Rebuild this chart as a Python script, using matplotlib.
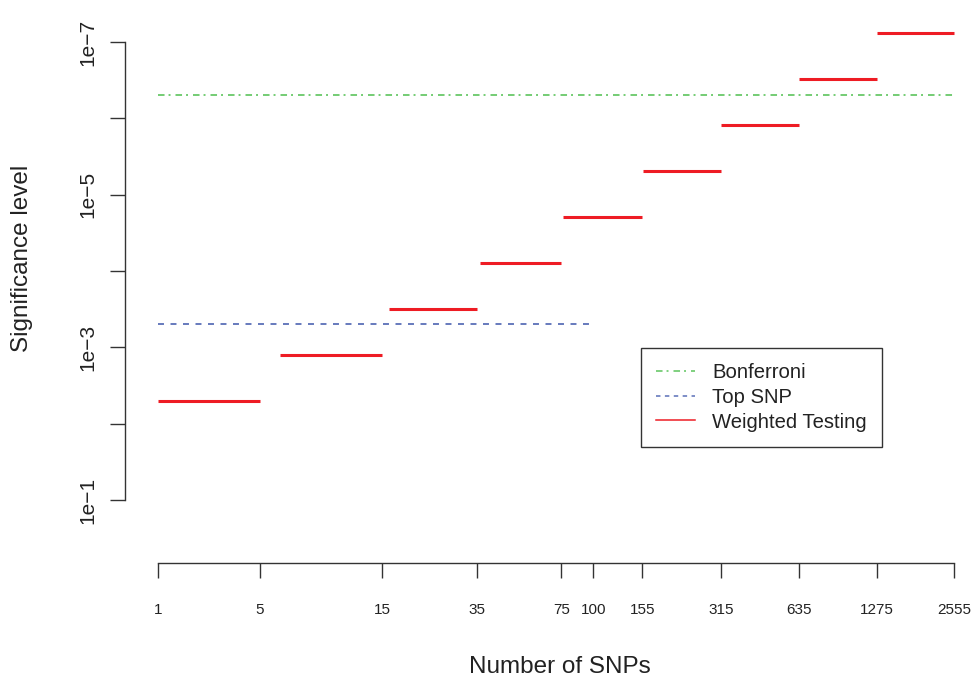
import matplotlib
matplotlib.use("Agg")
import matplotlib.pyplot as plt
from matplotlib.lines import Line2D
import numpy as np

plt.rcParams["font.family"] = ["Liberation Sans", "DejaVu Sans"]
plt.rcParams["lines.scale_dashes"] = False

# Groupes de SNPs (bornes) et niveau de signification pondéré
debut_groupe = [2, 6, 16, 36, 76, 156, 316, 636, 1276]
fin_groupe   = [5, 15, 35, 75, 155, 315, 635, 1275, 2555]
alpha_pond   = [5.0e-3, 1.25e-3, 3.1e-4, 7.8e-5, 1.95e-5, 4.9e-6, 1.22e-6, 3.05e-7, 7.6e-8]

# Seuils de référence
bonf_x   = [2, 2555]
bonf_y   = 5e-7
topsnp_x = [2, 100]
topsnp_y = 5e-4

ticks_x  = [2, 5, 15, 35, 75, 100, 155, 315, 635, 1275, 2555]
labels_x = ["1", "5", "15", "35", "75", "100", "155", "315", "635", "1275", "2555"]
ticks_y  = [1e-1, 1e-2, 1e-3, 1e-4, 1e-5, 1e-6, 1e-7]
labels_y = ["1e\u22121", "", "1e\u22123", "", "1e\u22125", "", "1e\u22127"]

VERT  = "#5cc45c"
BLEU  = "#5a6fb8"
ROUGE = "#ee1c24"
GRIS  = "#333333"
TIRET_VERT = (4.7, 2.9, 1.4, 3.6)
TIRET_BLEU = (4.3, 4.7)

W, H = 974, 678
fig = plt.figure(figsize=(W / 100, H / 100), dpi=100)
ax = fig.add_axes([125 / W, 1 - 563 / H, (W - 125) / W, (563 - 20) / H])

ax.set_xscale("log")
ax.set_yscale("log")

# échelle : ~256 px par décade en x, ~76 px par décade en y
ax.set_xlim(10 ** (np.log10(2) - 33 / 256.3), 10 ** (np.log10(2555) + 20 / 256.3))
ax.set_ylim(10 ** (-1 + 63 / 76.33), 10 ** (-7 - 22 / 76.33))

ax.plot(bonf_x, [bonf_y, bonf_y], color=VERT, lw=1.2, dashes=TIRET_VERT)
ax.plot(topsnp_x, [topsnp_y, topsnp_y], color=BLEU, lw=1.3, dashes=TIRET_BLEU)
for d, f, a in zip(debut_groupe, fin_groupe, alpha_pond):
    ax.plot([d, f], [a, a], color=ROUGE, lw=2.2, solid_capstyle="butt")

for cote in ["top", "right"]:
    ax.spines[cote].set_visible(False)
ax.spines["left"].set_bounds(1e-1, 1e-7)
ax.spines["bottom"].set_bounds(2, 2555)
for cote in ["left", "bottom"]:
    ax.spines[cote].set_color(GRIS)
    ax.spines[cote].set_linewidth(1.0)

ax.set_xticks(ticks_x)
ax.set_xticklabels(labels_x, fontsize=11, color="#222222")
ax.xaxis.set_minor_locator(matplotlib.ticker.NullLocator())
ax.set_yticks(ticks_y)
ax.set_yticklabels(labels_y, fontsize=15, color="#222222", rotation=90, va="center")
ax.yaxis.set_minor_locator(matplotlib.ticker.NullLocator())
ax.tick_params(axis="both", length=11, width=1.0, color=GRIS)
ax.tick_params(axis="x", pad=18)
ax.tick_params(axis="y", pad=9)

fig.text(560 / W, 1 - 667 / H, "Number of SNPs", fontsize=17.5,
         ha="center", va="center", color="#222222")
fig.text(22 / W, 1 - 258 / H, "Significance level", fontsize=17.5,
         ha="center", va="center", rotation=90, color="#222222")

# légende : traits fins comme dans R
poignees = [
    Line2D([], [], color=VERT, lw=1.1, dashes=TIRET_VERT),
    Line2D([], [], color=BLEU, lw=1.1, dashes=(3.2, 3.2)),
    Line2D([], [], color=ROUGE, lw=1.1),
]
leg = ax.legend(poignees, ["Bonferroni", "Top SNP", "Weighted Testing"],
                loc="upper left", bbox_to_anchor=(641 / W, 1 - 348 / H),
                bbox_transform=fig.transFigure, fontsize=14.6, frameon=True,
                fancybox=False, edgecolor="black", borderpad=0.75,
                handlelength=1.9, handletextpad=0.85, labelspacing=0.28,
                borderaxespad=0)
leg.get_frame().set_linewidth(1.0)
for t in leg.get_texts():
    t.set_color("#222222")

fig.savefig("out.png", dpi=100)
